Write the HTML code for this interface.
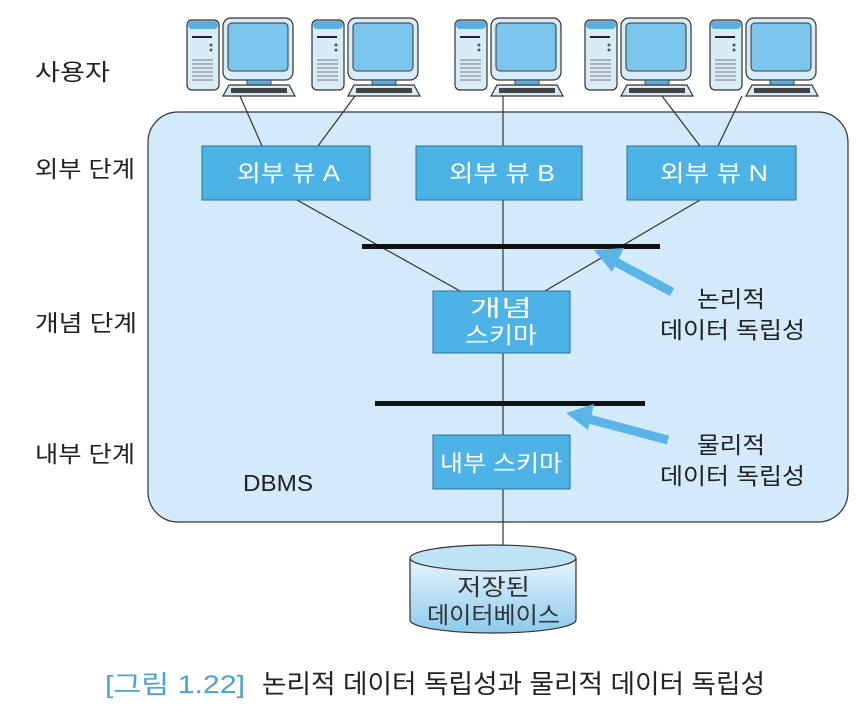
<!DOCTYPE html><html><head><meta charset="utf-8"><style>body{margin:0;background:#fff}svg{display:block}text{font-family:"Liberation Sans","Noto Sans CJK KR",sans-serif}</style></head><body>
<svg width="868" height="716" viewBox="0 0 868 716" xmlns="http://www.w3.org/2000/svg">
<defs>
<g id="pc">
<rect x="0" y="2" width="32" height="70" rx="5" fill="#d8ecf8" stroke="#333" stroke-width="1.2"/>
<rect x="1" y="3" width="30" height="8" rx="4" fill="#5aaee0"/>
<rect x="5" y="18" width="20" height="2" fill="#222"/>
<circle cx="24" cy="27" r="1.5" fill="#555"/><circle cx="24" cy="32" r="1.5" fill="#555"/>
<g stroke="#777" stroke-width="1"><line x1="5" y1="42" x2="26" y2="42"/><line x1="5" y1="46" x2="26" y2="46"/><line x1="5" y1="50" x2="26" y2="50"/><line x1="5" y1="54" x2="26" y2="54"/><line x1="5" y1="58" x2="26" y2="58"/><line x1="5" y1="62" x2="26" y2="62"/></g>
<rect x="36" y="0" width="70" height="62" rx="8" fill="#d8ecf8" stroke="#333" stroke-width="1.2"/>
<rect x="41" y="5" width="60" height="48" rx="4" fill="#7cc6ee" stroke="#333"/>
<rect x="60" y="62" width="24" height="5" fill="#5aaee0" stroke="#333" stroke-width="0.8"/>
<polygon points="42,67 102,67 108,78 36,78" fill="#d8ecf8" stroke="#333" stroke-width="1.2"/>
<rect x="44" y="70" width="56" height="5" fill="#444"/>
</g>
<linearGradient id="cy" x1="0" x2="0" y1="0" y2="1"><stop offset="0" stop-color="#e8f5fc"/><stop offset="1" stop-color="#8ccaee"/></linearGradient>
</defs>
<use href="#pc" x="187" y="18"/><use href="#pc" x="312" y="18"/><use href="#pc" x="455" y="18"/><use href="#pc" x="585" y="18"/><use href="#pc" x="710" y="18"/>
<rect x="148" y="112" width="700" height="410" rx="30" fill="#d2eaf9" stroke="#333" stroke-width="1.2"/>
<g stroke="#333" stroke-width="1.2">
<line x1="240" y1="96" x2="262" y2="146"/><line x1="355" y1="96" x2="318" y2="146"/>
<line x1="503" y1="96" x2="503" y2="146"/><line x1="662" y1="96" x2="700" y2="146"/><line x1="742" y1="96" x2="718" y2="146"/>
<line x1="297" y1="200" x2="460" y2="291"/><line x1="503" y1="200" x2="503" y2="291"/><line x1="700" y1="200" x2="545" y2="291"/>
<line x1="503" y1="353" x2="503" y2="435"/><line x1="503" y1="489" x2="503" y2="546"/>
</g>
<rect x="362" y="244" width="298" height="5" fill="#111"/>
<rect x="375" y="401" width="270" height="5" fill="#111"/>
<g fill="#4db3e6" stroke="#2a6f95" stroke-width="1">
<rect x="202" y="146" width="168" height="54"/><rect x="416" y="146" width="166" height="54"/><rect x="627" y="146" width="169" height="54"/>
<rect x="433" y="291" width="137" height="62"/><rect x="433" y="435" width="137" height="54"/>
</g>
<g fill="#fff" font-size="23">
<text x="237" y="181" textLength="103" lengthAdjust="spacingAndGlyphs">외부 뷰 A</text><text x="449" y="181" textLength="106" lengthAdjust="spacingAndGlyphs">외부 뷰 B</text><text x="660" y="181" textLength="108" lengthAdjust="spacingAndGlyphs">외부 뷰 N</text>
<text x="470" y="316" textLength="62" lengthAdjust="spacingAndGlyphs">개념</text><text x="465" y="343" textLength="72" lengthAdjust="spacingAndGlyphs">스키마</text><text x="440" y="471" textLength="122" lengthAdjust="spacingAndGlyphs">내부 스키마</text>
</g>
<g fill="#5ab4e6">
<line x1="672" y1="292" x2="612" y2="260" stroke="#5ab4e6" stroke-width="9"/>
<polygon points="594,250 624,248 612,272"/>
<line x1="668" y1="440" x2="585" y2="418" stroke="#5ab4e6" stroke-width="9"/>
<polygon points="566,413 594,404 588,430"/>
</g>
<g fill="#222" font-size="23">
<text x="35" y="80" textLength="75" lengthAdjust="spacingAndGlyphs">사용자</text><text x="35" y="177" textLength="100" lengthAdjust="spacingAndGlyphs">외부 단계</text><text x="35" y="331" textLength="102" lengthAdjust="spacingAndGlyphs">개념 단계</text><text x="35" y="462" textLength="100" lengthAdjust="spacingAndGlyphs">내부 단계</text>
<text x="243" y="491" textLength="70" lengthAdjust="spacingAndGlyphs">DBMS</text>
<text x="697" y="307" textLength="68" lengthAdjust="spacingAndGlyphs">논리적</text><text x="660" y="338" textLength="145" lengthAdjust="spacingAndGlyphs">데이터 독립성</text>
<text x="697" y="453" textLength="68" lengthAdjust="spacingAndGlyphs">물리적</text><text x="660" y="484" textLength="145" lengthAdjust="spacingAndGlyphs">데이터 독립성</text>
</g>
<path d="M410,558 L410,620 A83,13 0 0 0 576,620 L576,558" fill="url(#cy)" stroke="#333" stroke-width="1.2"/>
<ellipse cx="493" cy="558" rx="83" ry="13" fill="#bfe3f6" stroke="#333" stroke-width="1.2"/>
<g fill="#333" font-size="23"><text x="457" y="595" textLength="73" lengthAdjust="spacingAndGlyphs">저장된</text><text x="427" y="623" textLength="133" lengthAdjust="spacingAndGlyphs">데이터베이스</text></g>
<text x="105" y="693" font-size="25" fill="#4aa3d8" textLength="140" lengthAdjust="spacingAndGlyphs">[그림 1.22]</text>
<text x="262" y="693" font-size="26" fill="#222" textLength="503" lengthAdjust="spacingAndGlyphs">논리적 데이터 독립성과 물리적 데이터 독립성</text>
</svg></body></html>
